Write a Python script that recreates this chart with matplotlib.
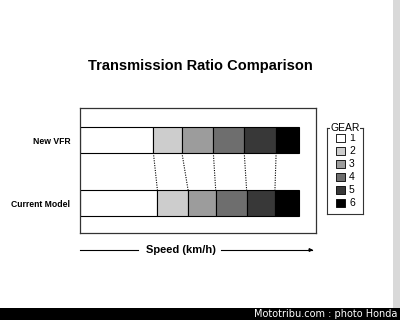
import numpy as np
import matplotlib
matplotlib.use("Agg")
import matplotlib.pyplot as plt
from matplotlib.patches import Rectangle

# gear end points on the speed axis (0-100, arbitrary units)
rows = ["New VFR", "Current Model"]
gears = ["1", "2", "3", "4", "5", "6"]
new_vfr = [31.1, 43.2, 56.5, 69.6, 83.1, 92.7]
current = [32.8, 45.8, 57.5, 70.6, 82.6, 92.7]
gear_colors = ["#ffffff", "#cdcdcd", "#9c9c9c", "#6e6e6e", "#383838", "#000000"]

sans = ["Liberation Sans", "DejaVu Sans"]

fig = plt.figure(figsize=(4, 3.2), dpi=100)
fig.patch.set_facecolor("white")

# main chart box
ax = fig.add_axes([80 / 400, 1 - 233 / 320, 236 / 400, 125 / 320])
bar_h = 0.41
ypos = [1, 0]
for y, ends in zip(ypos, [new_vfr, current]):
    starts = [0] + ends[:-1]
    widths = np.diff([0] + ends)
    ax.barh([y] * len(ends), widths, left=starts, height=bar_h,
            color=gear_colors, edgecolor="black", linewidth=0.8)

# dotted lines joining gear change points
for a, b in zip(new_vfr[:-1], current[:-1]):
    ax.plot([a, b], [ypos[0] - bar_h / 2, ypos[1] + bar_h / 2],
            color="black", linestyle=(0, (1.0, 1.2)), linewidth=0.8)

ax.set_xlim(0, 100)
ax.set_ylim(-0.476, 1.508)
ax.set_xticks([])
ax.set_yticks(ypos)
ax.set_yticklabels(rows, fontsize=6.2, fontweight="bold", family=sans)
ax.tick_params(axis="y", length=0, pad=7)
for s in ax.spines.values():
    s.set_linewidth(0.9)
    s.set_color("#333333")

# title
fig.text(0.5, 1 - 66 / 320, "Transmission Ratio Comparison", ha="center",
         va="center", fontsize=10.5, fontweight="bold", family=sans)

# speed arrow
sy = 1 - 250 / 320
fig.text(181 / 400, sy, "Speed (km/h)", ha="center", va="center",
         fontsize=8, fontweight="bold", family=sans)
fig.add_artist(plt.Line2D([80 / 400, 138 / 400], [sy, sy], color="black", linewidth=0.8))
fig.add_artist(plt.Line2D([221 / 400, 312 / 400], [sy, sy], color="black", linewidth=0.8))
ax.annotate("", xy=(316 / 400, sy), xytext=(306 / 400, sy), xycoords="figure fraction",
            arrowprops=dict(arrowstyle="-|>", color="black", lw=0.8, mutation_scale=5))

# legend box
lax = fig.add_axes([327 / 400, 1 - 214 / 320, 36 / 400, 86 / 320])
lax.set_xlim(0, 36)
lax.set_ylim(86, 0)
lax.set_xticks([])
lax.set_yticks([])
for s in lax.spines.values():
    s.set_linewidth(0.8)
    s.set_color("#333333")
ly = np.arange(len(gears)) * 13 + 10
lax.scatter([13.5] * len(gears), ly, s=38, marker="s", c=gear_colors,
            edgecolors="black", linewidths=0.6, clip_on=False)
for y, g in zip(ly, gears):
    lax.text(22, y, g, va="center", ha="left", fontsize=7.5, family=sans)
lax.text(18, 0, "GEAR", ha="center", va="center", fontsize=7.5, family=sans,
         bbox=dict(facecolor="white", edgecolor="none", pad=0.5))

# right shadow and footer
fig.patches.append(Rectangle((393 / 400, 12 / 320), 7 / 400, 308 / 320,
                             transform=fig.transFigure, facecolor="#d9d9d9", edgecolor="none"))
fig.patches.append(Rectangle((0, 0), 1, 12 / 320, transform=fig.transFigure,
                             facecolor="black", edgecolor="none"))
fig.text(397 / 400, 6 / 320, "Mototribu.com : photo Honda", ha="right", va="center",
         fontsize=7, color="white", family="DejaVu Sans")

fig.savefig("out.png", dpi=100)
